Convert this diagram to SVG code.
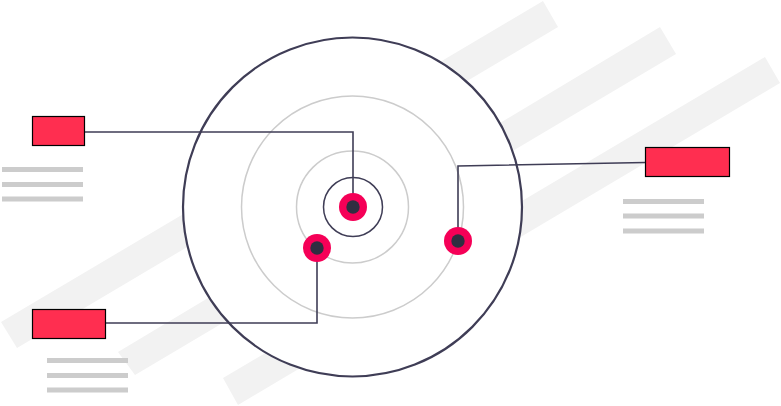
<svg xmlns="http://www.w3.org/2000/svg" width="781" height="406" viewBox="0 0 781 406">
<style>
.band{fill:#f2f2f2}
.txt{stroke:#cccccc;stroke-width:5}
.ring{fill:none;stroke:#cccccc;stroke-width:1.5}
.dark{fill:none;stroke:#3f3d56}
.conn{fill:none;stroke:#3f3d56;stroke-width:1.6}
.box{fill:#ff2e50;stroke:#000;stroke-width:1.2}
.dot{fill:#f50057}
.core{fill:#2f2e41}
</style>
<rect width="781" height="406" fill="#fff"/>
<g id="bands">
<polygon class="band" points="1,322 543,1 558,27 17,348"/>
<polygon class="band" points="118,352 660,27 676,54 135,375"/>
<polygon class="band" points="223,378 765,57 780,83 238,405"/>
</g>
<g id="target">
<circle cx="352.5" cy="207" r="169.5" fill="#fff" stroke="#3f3d56" stroke-width="2.2"/>
<circle class="ring" cx="352.5" cy="207" r="111"/>
<circle class="ring" cx="352.5" cy="207" r="56"/>
<circle class="dark" cx="353" cy="207" r="29.5" stroke-width="1.5"/>
</g>
<g id="connectors">
<polyline class="conn" points="353,207 353,132 84.5,132"/>
<polyline class="conn" points="317,248 317,323 105.5,323"/>
<polyline class="conn" points="458,241 458,166 645.5,162.5"/>
</g>
<g id="dot-center"><circle class="dot" cx="353" cy="207" r="14"/><circle class="core" cx="353" cy="207" r="6.7"/></g>
<g id="dot-left"><circle class="dot" cx="317" cy="248" r="14"/><circle class="core" cx="317" cy="248" r="6.7"/></g>
<g id="dot-right"><circle class="dot" cx="458" cy="241" r="14"/><circle class="core" cx="458" cy="241" r="6.7"/></g>
<g id="node-top-left">
<rect class="box" x="32.5" y="116.5" width="52" height="29"/>
<line class="txt" x1="2" y1="169.5" x2="83" y2="169.5"/>
<line class="txt" x1="2" y1="184.5" x2="83" y2="184.5"/>
<line class="txt" x1="2" y1="199" x2="83" y2="199"/>
</g>
<g id="node-bottom-left">
<rect class="box" x="32.5" y="309.5" width="73" height="29"/>
<line class="txt" x1="47" y1="360.5" x2="128" y2="360.5"/>
<line class="txt" x1="47" y1="375.5" x2="128" y2="375.5"/>
<line class="txt" x1="47" y1="390" x2="128" y2="390"/>
</g>
<g id="node-right">
<rect class="box" x="645.5" y="147.5" width="84" height="29"/>
<line class="txt" x1="623" y1="201.5" x2="704" y2="201.5"/>
<line class="txt" x1="623" y1="216" x2="704" y2="216"/>
<line class="txt" x1="623" y1="231" x2="704" y2="231"/>
</g>
</svg>
